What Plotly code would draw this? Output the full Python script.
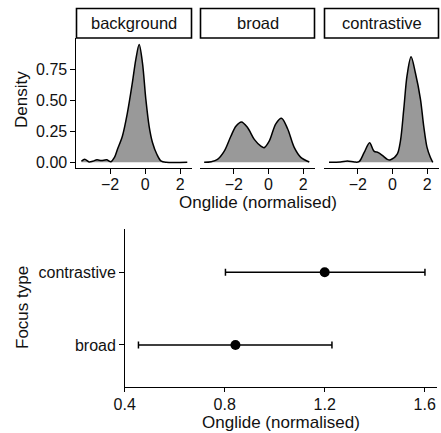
import plotly.graph_objects as go

# ---------------- data ----------------
panels = ["background", "broad", "contrastive"]

bg_x = [-3.64, -3.45, -3.2, -3.0, -2.75, -2.5, -2.2, -1.95, -1.75, -1.58, -1.30, -1.01, -0.73,
        -0.53, -0.34, -0.15, 0.04, 0.23, 0.42, 0.67, 0.9, 1.2, 2.41]
bg_y = [0.008, 0.025, 0.003, 0.008, 0.02, 0.014, 0.02, 0.005, 0.04, 0.105, 0.21, 0.40, 0.64,
        0.83, 0.95, 0.80, 0.51, 0.29, 0.16, 0.065, 0.012, 0.0, 0.0]

br_x = [-3.71, -3.3, -2.94, -2.55, -2.17, -1.88, -1.56, -1.21, -0.82, -0.44, -0.25, 0.04,
        0.42, 0.75, 1.10, 1.48, 1.86, 2.35]
br_y = [0.0, 0.005, 0.024, 0.09, 0.21, 0.29, 0.325, 0.28, 0.185, 0.13, 0.118, 0.17,
        0.31, 0.355, 0.27, 0.12, 0.04, 0.002]

co_x = [-3.66, -3.0, -2.6, -2.2, -1.93, -1.64, -1.32, -1.07, -0.82, -0.59, -0.30, -0.11,
        0.27, 0.46, 0.65, 0.84, 1.07, 1.32, 1.61, 1.80, 1.99, 2.18, 2.32]
co_y = [0.0, 0.002, 0.01, 0.002, 0.005, 0.077, 0.158, 0.09, 0.078, 0.056, 0.024, 0.02,
        0.065, 0.175, 0.43, 0.70, 0.85, 0.72, 0.51, 0.29, 0.12, 0.04, 0.0]

density_x = [bg_x, br_x, co_x]
density_y = [bg_y, br_y, co_y]

top_xticks = [-2, 0, 2]
top_xticklabels = ["\u22122", "0", "2"]
top_yticks = [0.0, 0.25, 0.5, 0.75]

focus = ["broad", "contrastive"]
focus_mean = [0.843, 1.2]
focus_lower = [0.455, 0.803]
focus_upper = [1.229, 1.601]
bottom_xticks = [0.4, 0.8, 1.2, 1.6]

# ---------------- layout helpers ----------------
W, H = 441, 433
FONT = "Liberation Sans, Arial, Helvetica, sans-serif"
TXT = "#111111"

def px_x(p):
    return p / W

def px_y(p):
    return 1 - p / H

panel_px = [(76, 192), (200, 315), (324, 439)]
top_y = (38, 168)
strip_y = (8.5, 38)

fig = go.Figure()

for i, name in enumerate(panels):
    n = "" if i == 0 else str(i + 1)
    fig.add_trace(go.Scatter(
        x=density_x[i], y=density_y[i], mode="lines",
        line=dict(color="black", width=1.5, shape="spline", smoothing=0.9),
        fill="tozeroy", fillcolor="#999999",
        xaxis="x" + n, yaxis="y" + n, showlegend=False, hoverinfo="skip"))

# bottom panel
fig.add_trace(go.Scatter(
    x=focus_mean, y=focus, mode="markers",
    marker=dict(color="black", size=10),
    error_x=dict(type="data", symmetric=False,
                 array=[u - m for u, m in zip(focus_upper, focus_mean)],
                 arrayminus=[m - l for m, l in zip(focus_mean, focus_lower)],
                 color="black", thickness=1.5, width=3.5),
    xaxis="x4", yaxis="y4", showlegend=False, hoverinfo="skip"))

axis_common = dict(showgrid=False, zeroline=False, showline=True, linecolor="black",
                   linewidth=1.2, ticks="outside", ticklen=4.5, tickwidth=1.2,
                   tickcolor="black", automargin=False,
                   tickfont=dict(family=FONT, size=16, color=TXT))

layout = dict(
    width=W, height=H, margin=dict(l=0, r=0, t=0, b=0, pad=0, autoexpand=False),
    paper_bgcolor="white", plot_bgcolor="white",
    font=dict(family=FONT, size=16, color=TXT),
)

for i in range(3):
    n = "" if i == 0 else str(i + 1)
    x0, x1 = panel_px[i]
    layout["xaxis" + n] = dict(axis_common, domain=[px_x(x0), px_x(x1)],
                               range=[-3.95, 2.68], tickvals=top_xticks,
                               ticktext=top_xticklabels, anchor="y" + n,
                               ticklabelstandoff=-3)
    ya = dict(axis_common, domain=[px_y(top_y[1]), px_y(top_y[0])],
              range=[-0.046, 1.002], anchor="x" + n, tickvals=top_yticks,
              tickformat=".2f")
    if i > 0:
        ya.update(showline=False, ticks="", showticklabels=False)
    layout["yaxis" + n] = ya

layout["xaxis4"] = dict(axis_common, domain=[px_x(124.7), px_x(436.7)],
                        range=[0.4, 1.648], tickvals=bottom_xticks,
                        tickformat=".1f", anchor="y4", ticklabelstandoff=-2)
layout["yaxis4"] = dict(axis_common, domain=[px_y(386.7), px_y(229)],
                        type="category", categoryorder="array", categoryarray=focus,
                        range=[-0.574, 1.596], anchor="x4")

fig.update_layout(**layout)

# strips
for i, name in enumerate(panels):
    x0, x1 = panel_px[i]
    fig.add_shape(type="rect", xref="paper", yref="paper",
                  x0=px_x(x0 + 0.5), x1=px_x(x1 - 0.5),
                  y0=px_y(strip_y[1]), y1=px_y(strip_y[0]),
                  line=dict(color="black", width=1.6), fillcolor="white")
    fig.add_annotation(text=name, xref="paper", yref="paper",
                       x=px_x((x0 + x1) / 2), y=px_y(23.5),
                       xanchor="center", yanchor="middle", showarrow=False,
                       font=dict(family=FONT, size=16.5, color=TXT))

# axis titles
fig.add_annotation(text="Onglide (normalised)", xref="paper", yref="paper",
                   x=px_x(257.5), y=px_y(202), xanchor="center", yanchor="middle",
                   showarrow=False, font=dict(family=FONT, size=17, color=TXT))
fig.add_annotation(text="Density", xref="paper", yref="paper",
                   x=px_x(22), y=px_y(100), xanchor="center", yanchor="middle",
                   textangle=-90, showarrow=False, font=dict(family=FONT, size=17, color=TXT))
fig.add_annotation(text="Onglide (normalised)", xref="paper", yref="paper",
                   x=px_x(280.7), y=px_y(422), xanchor="center", yanchor="middle",
                   showarrow=False, font=dict(family=FONT, size=17, color=TXT))
fig.add_annotation(text="Focus type", xref="paper", yref="paper",
                   x=px_x(22), y=px_y(308), xanchor="center", yanchor="middle",
                   textangle=-90, showarrow=False, font=dict(family=FONT, size=17, color=TXT))

fig.write_html("out.html", config={"displayModeBar": False},
               post_script="document.body.style.margin='0';document.body.style.overflow='hidden';")
